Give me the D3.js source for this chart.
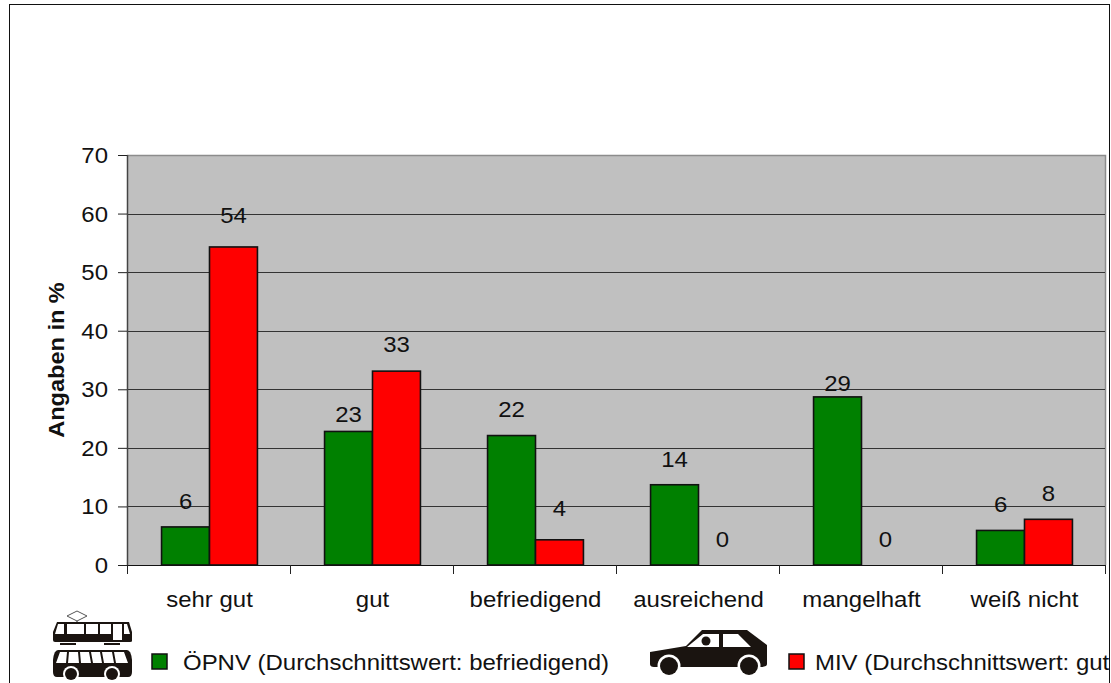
<!DOCTYPE html>
<html><head><meta charset="utf-8">
<script src="https://cdn.jsdelivr.net/npm/d3@7/dist/d3.min.js"></script>
<style>html,body{margin:0;padding:0;background:#fff;overflow:hidden}svg{display:block}text{font-family:"Liberation Sans",Arial,sans-serif;fill:#111}</style>
</head><body><svg id="c" width="1111" height="683"></svg>
<script>
const categories = ["sehr gut","gut","befriedigend","ausreichend","mangelhaft","weiß nicht"];
const oepnv = [6.5,22.8,22.1,13.7,28.7,5.9];
const miv = [54.3,33.1,4.3,0,0,7.8];
const oepnvLabels = ["6","23","22","14","29","6"];
const mivLabels = ["54","33","4","0","0","8"];
const yTicks = [0,10,20,30,40,50,60,70];
const oepnvGaps = [26,17,27,26,14,26];
const mivGaps = [32,27,32,26,26,26];
const legendNames = ["ÖPNV (Durchschnittswert: befriedigend)","MIV (Durchschnittswert: gut"];

const W=1111,H=683,L=127,R=1105,T=155,B=565,FS=22.5,SX=1.065;
const svg=d3.select("#c");
svg.append("rect").attr("x",9.5).attr("y",4.5).attr("width",1100).attr("height",700).attr("fill","#fff").attr("stroke","#111");
const x=d3.scaleBand().domain(categories).range([L,R]);
const inner=d3.scaleBand().domain([0,1]).range([1,x.bandwidth()+1]).paddingOuter(0.7).paddingInner(0);
const y=d3.scaleLinear().domain([0,70]).range([B,T]);
function label(xp,yp,t,anchor="middle"){
  return svg.append("text").attr("transform",`translate(${xp},${yp}) scale(${SX},1)`)
    .attr("text-anchor",anchor).attr("font-size",FS).text(t);
}
svg.append("rect").attr("x",L).attr("y",T).attr("width",R-L).attr("height",B-T).attr("fill","#c0c0c0");
svg.append("path").attr("d",`M${L},${T+.5}H${R+.5}V${B}`).attr("fill","none").attr("stroke","#8c8c8c").attr("stroke-width",1.5);
svg.append("g").selectAll("line").data(yTicks.slice(1,-1)).join("line")
  .attr("x1",L).attr("x2",R).attr("y1",d=>Math.round(y(d))+.5).attr("y2",d=>Math.round(y(d))+.5)
  .attr("stroke","#333").attr("stroke-width",1);
const series=[{v:oepnv,c:"#008000",i:0,l:oepnvLabels,g:oepnvGaps},{v:miv,c:"#ff0000",i:1,l:mivLabels,g:mivGaps}];
series.forEach(s=>{
  svg.append("g").selectAll("rect").data(categories).join("rect")
    .filter((d,i)=>s.v[i]>0)
    .attr("x",d=>x(d)+inner(s.i)).attr("width",inner.bandwidth())
    .attr("y",(d)=>y(s.v[categories.indexOf(d)])).attr("height",d=>B-y(s.v[categories.indexOf(d)]))
    .attr("fill",s.c).attr("stroke","#111").attr("stroke-width",1.6);
});
const yA=d3.axisLeft(y).tickValues(yTicks).tickSize(9).tickPadding(4);
const xEdges=d3.range(categories.length+1).map(i=>L+i*x.step());
const gy=svg.append("g").attr("transform",`translate(${L},0)`).call(yA);
gy.selectAll("text").remove();
gy.selectAll("line,path").attr("stroke","#222");
gy.select(".domain").attr("d",`M0.5,${T}V${B}`).attr("stroke","#444").attr("stroke-width",1.5);
svg.append("line").attr("x1",L).attr("x2",R).attr("y1",B+.5).attr("y2",B+.5).attr("stroke","#111");
svg.append("g").selectAll("line").data(xEdges).join("line").attr("x1",d=>Math.round(d)+.5).attr("x2",d=>Math.round(d)+.5).attr("y1",B).attr("y2",B+9).attr("stroke","#222");
yTicks.forEach(t=>label(108,y(t)+8,String(t),"end"));
categories.forEach(c=>label(x(c)+x.bandwidth()/2+1,607,c));
series.forEach(s=>categories.forEach((c,i)=>{
  label(x(c)+inner(s.i)+inner.bandwidth()/2,y(s.v[i])-s.g[i]+8,s.l[i]);
}));
svg.append("text").attr("transform",`translate(64,${(T+B)/2}) rotate(-90) scale(1.07,1)`).attr("text-anchor","middle")
  .attr("font-size",22).attr("font-weight","bold").text("Angaben in %");
[[152,183,0,"#008000"],[789,815,1,"#ff0000"]].forEach(([a,b,i,c])=>{
  svg.append("rect").attr("x",a).attr("y",654).attr("width",15).attr("height",15).attr("fill",c).attr("stroke","#111").attr("stroke-width",1.5);
  label(b,670,legendNames[i],"start");
});
const ic=svg.append("g").attr("fill","#1a1410");
ic.append("path").attr("d","M67,616L77,611L87,616L77,621Z").attr("fill","none").attr("stroke","#555").attr("stroke-width",1);
ic.append("path").attr("d","M77,621V623").attr("stroke","#333");
ic.append("path").attr("d","M57,622H129L132,632V641Q132,642 130,642H55Q53,642 53,640V632Z");
ic.append("path").attr("d","M58,624H64V634H55ZM67,624H84V634H67ZM86,624H98V634H86ZM100,624H111V634H100ZM113,624H122V640H113ZM124,624H127L130,634H124Z").attr("fill","#fff");
ic.append("path").attr("d","M60,643H76V645H60ZM104,643H120V645H104Z");
ic.append("path").attr("d","M58,650H127Q131,650 132,660V672Q132,677 128,677H57Q53,677 53,672V660Q54,650 58,650Z");
ic.append("path").attr("d","M60,652H67L66,663H56ZM69,652H78L79,663H68ZM80,652H89L91,663H81ZM91,652H100L102,663H93ZM102,652H112L114,663H104ZM114,652H124L128,663H116Z").attr("fill","#fff");
[71,112].forEach(cx=>{
  ic.append("circle").attr("cx",cx).attr("cy",674).attr("r",8).attr("fill","#fff");
  ic.append("circle").attr("cx",cx).attr("cy",674).attr("r",6);
});
ic.append("path").attr("d","M650,652L686,646L702,630H747L767,645V664Q767,667 760,667H654Q650,667 650,664Z");
ic.append("path").attr("d","M687,647L703,634H719V647ZM723,634H738L751,647H723Z").attr("fill","#fff");
ic.append("circle").attr("cx",706).attr("cy",641).attr("r",4.5);
[669,749].forEach(cx=>{
  ic.append("circle").attr("cx",cx).attr("cy",666).attr("r",11.5).attr("fill","#fff");
  ic.append("circle").attr("cx",cx).attr("cy",666).attr("r",9);
});
</script></body></html>
